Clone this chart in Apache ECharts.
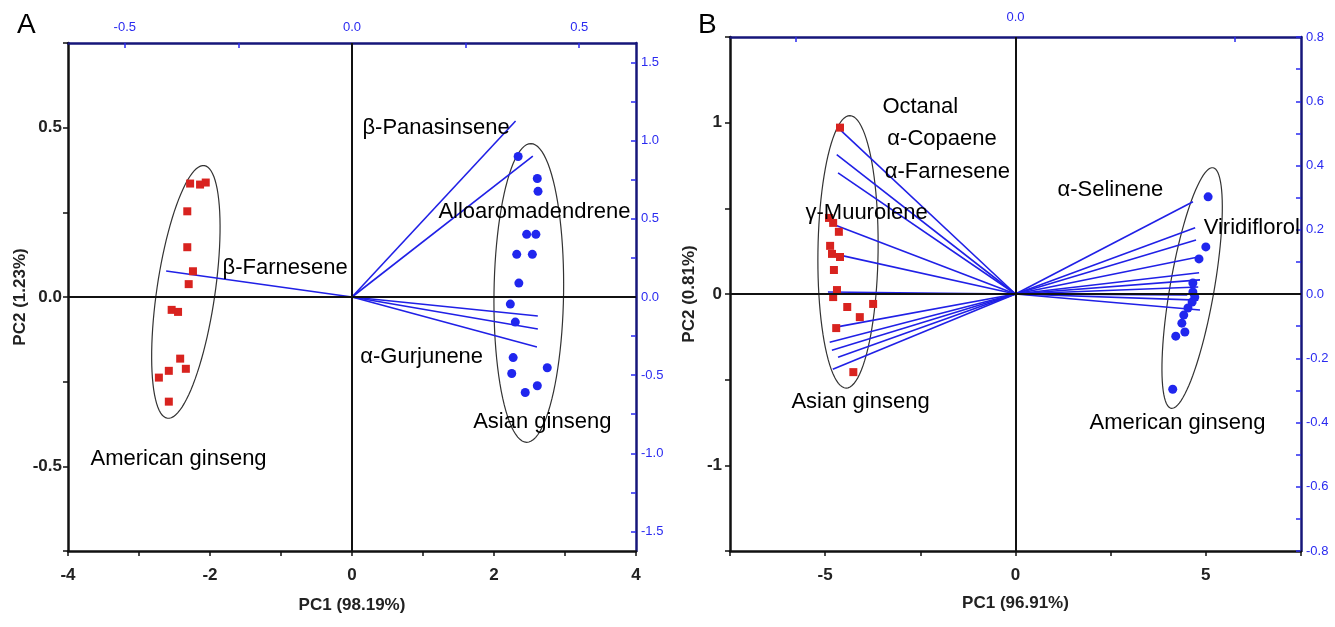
<!DOCTYPE html>
<html>
<head>
<meta charset="utf-8">
<script src="https://cdn.jsdelivr.net/npm/echarts@6/dist/echarts.min.js"></script>
<style>
  html, body { margin: 0; padding: 0; background: #fff; }
  #chart { width: 1335px; height: 627px; }
</style>
</head>
<body>
<div id="chart"></div>
<script>
// ---- panel A : scores (PC1, PC2) ----
const americanA = [
  [-2.28, 0.335], [-2.14, 0.332], [-2.06, 0.338], [-2.32, 0.253], [-2.32, 0.147],
  [-2.24, 0.076], [-2.30, 0.038], [-2.54, -0.038], [-2.45, -0.044], [-2.42, -0.182],
  [-2.34, -0.212], [-2.58, -0.218], [-2.72, -0.238], [-2.58, -0.309]
]
const asianA = [
  [2.34, 0.415], [2.61, 0.35], [2.62, 0.312], [2.46, 0.185], [2.59, 0.185],
  [2.32, 0.126], [2.54, 0.126], [2.35, 0.041], [2.23, -0.021], [2.30, -0.074],
  [2.27, -0.179], [2.75, -0.209], [2.25, -0.226], [2.61, -0.262], [2.44, -0.282]
]
// panel A : loadings (top / right axes)
const loadingsA = [
  [0.360, 1.126], [0.398, 0.902], [-0.409, 0.166],
  [0.409, -0.122], [0.409, -0.205], [0.407, -0.320]
]
// ellipse: centre x, centre y, end of long axis x, y, half width (x units)
const ellipsesA = [
  [-2.34, 0.015, -2.08, 0.388, 0.41],
  [2.49, 0.012, 2.52, 0.453, 0.49]
]
const labelsA = [
  ['β-Panasinsene', 0.14, 0.50],
  ['Alloaromadendrene', 1.21, 0.25],
  ['β-Farnesene', -1.83, 0.085],
  ['α-Gurjunene', 0.11, -0.176],
  ['American ginseng', -3.69, -0.479],
  ['Asian ginseng', 1.70, -0.37]
]

// ---- panel B ----
const asianB = [
  [-4.61, 0.971], [-4.90, 0.444], [-4.79, 0.415], [-4.64, 0.363], [-4.87, 0.281],
  [-4.82, 0.234], [-4.61, 0.216], [-4.77, 0.140], [-4.69, 0.023], [-4.79, -0.018],
  [-4.42, -0.076], [-3.74, -0.058], [-4.09, -0.135], [-4.71, -0.199], [-4.26, -0.456]
]
const americanB = [
  [5.06, 0.567], [5.00, 0.275], [4.82, 0.205], [4.66, 0.064], [4.66, 0.012],
  [4.71, -0.018], [4.64, -0.047], [4.53, -0.082], [4.42, -0.123], [4.37, -0.170],
  [4.45, -0.222], [4.21, -0.246], [4.13, -0.556]
]
const loadingsB = [
  [-0.402, 0.515], [-0.407, 0.434], [-0.404, 0.377], [-0.423, 0.221], [-0.423, 0.128],
  [-0.427, 0.006], [-0.409, -0.103], [-0.423, -0.150], [-0.418, -0.175], [-0.404, -0.197],
  [-0.416, -0.234],
  [0.404, 0.287], [0.409, 0.206], [0.411, 0.168], [0.416, 0.115], [0.418, 0.066],
  [0.420, 0.044], [0.416, 0.022], [0.391, -0.003], [0.416, -0.019], [0.420, -0.050]
]
const ellipsesB = [
  [-4.40, 0.246, -4.35, 1.041, 0.79],
  [4.64, 0.035, 5.19, 0.737, 0.58]
]
const labelsB = [
  ['Octanal', -3.51, 1.094],
  ['α-Copaene', -3.38, 0.906],
  ['α-Farnesene', -3.45, 0.713],
  ['γ-Muurolene', -5.53, 0.474],
  ['α-Selinene', 1.09, 0.608],
  ['Viridiflorol', 4.93, 0.386],
  ['Asian ginseng', -5.90, -0.632],
  ['American ginseng', 1.93, -0.754]
]

// tick values of the loading axes
const topTicksA = [-0.5, -0.25, 0, 0.25, 0.5]
const topLabelsA = [-0.5, 0, 0.5]
const rightTicksA = [-1.5, -1.25, -1, -0.75, -0.5, -0.25, 0, 0.25, 0.5, 0.75, 1, 1.25, 1.5]
const rightLabelsA = [-1.5, -1, -0.5, 0, 0.5, 1, 1.5]
const topTicksB = [-0.5, 0, 0.5]
const topLabelsB = [0]

const BLUE = '#2a2af0'
const NAVY = '#16167a'
const FONT = 'Liberation Sans, Arial, sans-serif'

function vectorItem (params, api) {
  const o = api.coord([0, 0])
  const e = api.coord([api.value(0), api.value(1)])
  return {
    type: 'line',
    shape: { x1: o[0], y1: o[1], x2: e[0], y2: e[1] },
    style: { stroke: '#2020e6', lineWidth: 1.6 }
  }
}

function ellipseItem (params, api) {
  const c = api.coord([api.value(0), api.value(1)])
  const t = api.coord([api.value(2), api.value(3)])
  const w = api.size([api.value(4), 0])[0]
  const vx = t[0] - c[0]
  const vy = t[1] - c[1]
  const len = Math.hypot(vx, vy)
  const nx = -vy / len * w
  const ny = vx / len * w
  const pts = []
  for (let i = 0; i < 96; i++) {
    const a = i / 96 * Math.PI * 2
    pts.push([c[0] + Math.cos(a) * vx + Math.sin(a) * nx, c[1] + Math.cos(a) * vy + Math.sin(a) * ny])
  }
  return {
    type: 'polygon',
    shape: { points: pts },
    style: { fill: 'none', stroke: '#333', lineWidth: 1.2 }
  }
}

function scoreAxis (grid, pos, min, max, interval, fmt, margin, name, gap) {
  return {
    gridIndex: grid,
    type: 'value',
    position: pos,
    min: min,
    max: max,
    interval: interval,
    name: name,
    nameLocation: 'middle',
    nameGap: gap,
    nameTextStyle: { fontFamily: FONT, fontWeight: 'bold', fontSize: 17, color: '#222' },
    axisLine: { onZero: false, lineStyle: { color: '#111', width: 2.5 } },
    axisTick: { length: 5, lineStyle: { color: '#111', width: 1.5 } },
    splitLine: { show: false },
    axisLabel: {
      formatter: fmt,
      margin: margin,
      fontFamily: FONT,
      fontWeight: 'bold',
      fontSize: 17,
      color: '#222',
      showMinLabel: true,
      showMaxLabel: true
    }
  }
}

function loadAxis (grid, pos, min, max, ticks, labels, fmt, margin, interval) {
  const ax = {
    gridIndex: grid,
    type: 'value',
    position: pos,
    min: min,
    max: max,
    axisLine: { onZero: false, lineStyle: { color: NAVY, width: 2.5 } },
    axisTick: { inside: true, length: 5, lineStyle: { color: BLUE, width: 1.5 } },
    splitLine: { show: false },
    axisLabel: {
      formatter: fmt,
      margin: margin,
      fontFamily: FONT,
      fontSize: 13,
      color: BLUE
    }
  }
  if (interval) {
    ax.interval = interval
  } else {
    ax.axisTick.customValues = ticks
    ax.axisLabel.customValues = labels
  }
  return ax
}

const fmt1 = v => v.toFixed(1)

const labelSeries = (list, xi, yi) => ({
  type: 'scatter',
  xAxisIndex: xi,
  yAxisIndex: yi,
  symbolSize: 1,
  itemStyle: { color: 'rgba(0,0,0,0)' },
  z: 5,
  silent: true,
  label: {
    show: true,
    position: 'right',
    distance: 0,
    formatter: '{b}',
    fontFamily: FONT,
    fontSize: 22,
    color: '#000',
    opacity: 1
  },
  data: list.map(d => ({ name: d[0], value: [d[1], d[2]] }))
})

const zeroLines = {
  silent: true,
  symbol: 'none',
  label: { show: false },
  lineStyle: { color: '#111', width: 2, type: 'solid' },
  data: [{ xAxis: 0 }, { yAxis: 0 }]
}

const red = { color: '#d8231f', opacity: 1 }
const blue = { color: '#2026ee', opacity: 1 }

const option = {
  animation: false,
  backgroundColor: '#fff',
  title: [
    { text: 'A', left: 12, top: 6, textStyle: { fontFamily: FONT, fontSize: 28, fontWeight: 'normal', color: '#000' } },
    { text: 'B', left: 693, top: 6, textStyle: { fontFamily: FONT, fontSize: 28, fontWeight: 'normal', color: '#000' } }
  ],
  grid: [
    { left: 68, top: 43, width: 568, height: 508 },
    { left: 730, top: 37, width: 571, height: 514 }
  ],
  xAxis: [
    scoreAxis(0, 'bottom', -4, 4, 1, v => (v % 2 === 0 ? String(v) : ''), 16, 'PC1 (98.19%)', 46),
    loadAxis(0, 'top', -0.625, 0.625, topTicksA, topLabelsA, fmt1, 9),
    scoreAxis(1, 'bottom', -7.5, 7.5, 2.5, v => (v % 5 === 0 ? String(v) : ''), 16, 'PC1 (96.91%)', 44),
    loadAxis(1, 'top', -0.65, 0.65, topTicksB, topLabelsB, fmt1, 13)
  ],
  yAxis: [
    scoreAxis(0, 'left', -0.75, 0.75, 0.25, v => (Math.abs(v * 2 - Math.round(v * 2)) < 1e-6 ? v.toFixed(1) : ''), 6, 'PC2 (1.23%)', 27),
    loadAxis(0, 'right', -1.625, 1.625, rightTicksA, rightLabelsA, fmt1, 5),
    scoreAxis(1, 'left', -1.5, 1.5, 0.5, v => (Number.isInteger(v) ? String(v) : ''), 8, 'PC2 (0.81%)', 32),
    loadAxis(1, 'right', -0.8, 0.8, null, null,
      v => (Math.round(v * 10) % 2 === 0 ? v.toFixed(1) : ''), 5, 0.1)
  ],
  series: [
    // panel A
    { type: 'custom', xAxisIndex: 0, yAxisIndex: 0, z: 1, silent: true, renderItem: ellipseItem, data: ellipsesA, markLine: zeroLines },
    { type: 'custom', xAxisIndex: 1, yAxisIndex: 1, z: 2, silent: true, renderItem: vectorItem, data: loadingsA },
    { type: 'scatter', xAxisIndex: 0, yAxisIndex: 0, z: 3, symbol: 'rect', symbolSize: 8, itemStyle: red, data: americanA },
    { type: 'scatter', xAxisIndex: 0, yAxisIndex: 0, z: 3, symbol: 'circle', symbolSize: 9, itemStyle: blue, data: asianA },
    labelSeries(labelsA, 0, 0),
    // panel B
    { type: 'custom', xAxisIndex: 2, yAxisIndex: 2, z: 1, silent: true, renderItem: ellipseItem, data: ellipsesB, markLine: zeroLines },
    { type: 'custom', xAxisIndex: 3, yAxisIndex: 3, z: 2, silent: true, renderItem: vectorItem, data: loadingsB },
    { type: 'scatter', xAxisIndex: 2, yAxisIndex: 2, z: 3, symbol: 'rect', symbolSize: 8, itemStyle: red, data: asianB },
    { type: 'scatter', xAxisIndex: 2, yAxisIndex: 2, z: 3, symbol: 'circle', symbolSize: 9, itemStyle: blue, data: americanB },
    labelSeries(labelsB, 2, 2)
  ]
}

const chart = echarts.init(document.getElementById('chart'), null, { renderer: 'canvas' })
chart.setOption(option)
</script>
</body>
</html>
